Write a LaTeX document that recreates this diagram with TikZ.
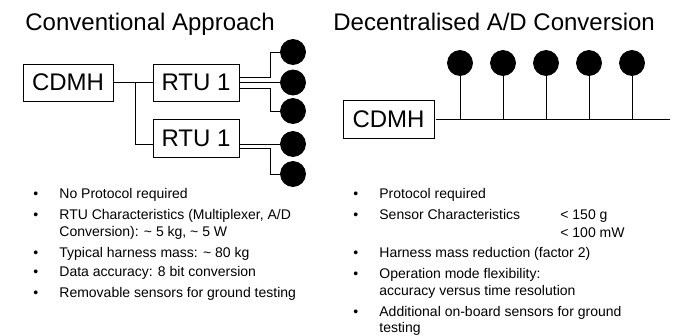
\documentclass[tikz,border=0pt]{standalone}
\usepackage{fontspec}
\setmainfont{Liberation Sans}
\begin{document}
\begin{tikzpicture}[x=1pt,y=-1pt,line width=0.8pt,
  box/.style={draw,inner sep=0pt,font=\fontsize{24}{28}\selectfont},
  title/.style={anchor=base west,inner sep=0pt,font=\fontsize{24}{28}\selectfont},
  txt/.style={anchor=base west,inner sep=0pt,font=\fontsize{14}{17}\selectfont},
  sensor/.style={circle,fill=black,draw=black,minimum size=25pt,inner sep=0pt}]
\useasboundingbox (0,0) rectangle (675,335);

% titles
\node[title] (tA) at (25,30) {Conventional Approach};
\node[title] (tB) at (333,30) {Decentralised A/D Conversion};

% ---- left diagram
\node[box,minimum width=90pt,minimum height=37pt] (cdmhA) at (68,82.5) {CDMH};
\node[box,minimum width=86pt,minimum height=37pt] (rtuA) at (196,82.5) {RTU 1};
\node[box,minimum width=86pt,minimum height=38pt] (rtuB) at (196,138) {RTU 1};
\node[sensor] (s1) at (293,52) {};
\node[sensor] (s2) at (293,82.5) {};
\node[sensor] (s3) at (293,111) {};
\node[sensor] (s4) at (293,144) {};
\node[sensor] (s5) at (293,174) {};
\coordinate (j) at (135,82.5);

\draw (cdmhA.east) -- (rtuA.west);
\draw (j) |- ([yshift=-6pt]rtuB.west);
\draw ([yshift=5.5pt]rtuA.east) -- ++(31,0) |- (s1.west);
\draw (rtuA.east) -- (s2.west);
\draw ([yshift=-5.5pt]rtuA.east) -- ++(31,0) |- (s3.west);
\draw ([yshift=-6pt]rtuB.east) -- (s4.west);
\draw ([yshift=-10pt]rtuB.east) -- ++(31,0) |- (s5.west);

% ---- right diagram
\node[box,minimum width=91pt,minimum height=38pt] (cdmhB) at (388.5,119) {CDMH};
\coordinate (busend) at (670,119);
\draw ([xshift=2pt]cdmhB.east) -- (busend);
\foreach \i/\x in {1/460,2/503,3/546,4/589,5/632}{
  \node[sensor] (t\i) at (\x,63) {};
  \draw (t\i.south) -- (t\i.south |- busend);
}

% ---- left bullets
\foreach \n/\y in {a/198,b/219,c/257,d/276,e/297}{
  \node[txt] (bl\n) at (33,\y) {•};
}
\node[txt] (la) at (59,198) {No Protocol required};
\node[txt] (lb) at (59,219) {RTU Characteristics (Multiplexer, A/D};
\node[txt] (lb2) at (59,236) {Conversion): \char`~\ 5 kg, \char`~\ 5 W};
\node[txt] (lc) at (59,257) {Typical harness mass: \char`~\ 80 kg};
\node[txt] (ld) at (59,276) {Data accuracy: 8 bit conversion};
\node[txt] (le) at (59,297) {Removable sensors for ground testing};

% ---- right bullets
\foreach \n/\y in {a/198,b/219,c/257,d/278,e/316}{
  \node[txt] (br\n) at (353,\y) {•};
}
\node[txt] (ra) at (379,198) {Protocol required};
\node[txt] (rb) at (379,219) {Sensor Characteristics};
\node[txt] (rb1) at (560,219) {< 150 g};
\node[txt] (rb2) at (560,237) {< 100 mW};
\node[txt] (rc) at (379,257) {Harness mass reduction (factor 2)};
\node[txt] (rd) at (379,278) {Operation mode flexibility:};
\node[txt] (rd2) at (379,295) {accuracy versus time resolution};
\node[txt] (re) at (379,316) {Additional on-board sensors for ground};
\node[txt] (re2) at (379,332) {testing};
\end{tikzpicture}
\end{document}
